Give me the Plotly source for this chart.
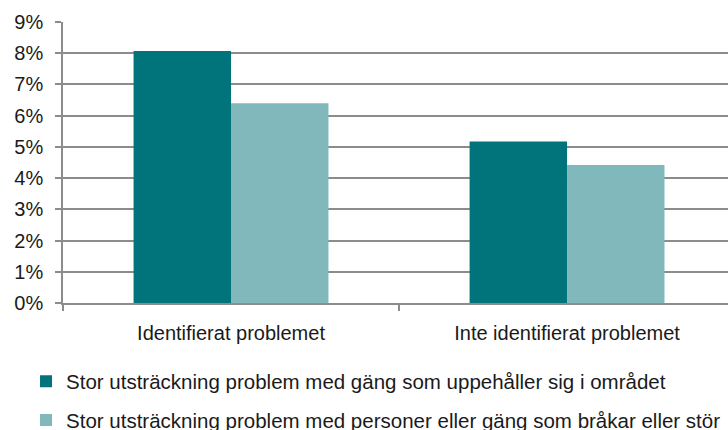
import plotly.graph_objects as go

# Data
categories = ["Identifierat problemet", "Inte identifierat problemet"]
series_names = [
    "Stor utsträckning problem med gäng som uppehåller sig i området",
    "Stor utsträckning problem med personer eller gäng som bråkar eller stör",
]
gang_values = [0.0807, 0.0517]
disturb_values = [0.0640, 0.0442]
y_ticks = [0, 0.01, 0.02, 0.03, 0.04, 0.05, 0.06, 0.07, 0.08, 0.09]
y_labels = ["0%", "1%", "2%", "3%", "4%", "5%", "6%", "7%", "8%", "9%"]

FONT = "Liberation Sans, Arial, sans-serif"
GRID = "#8c8c8c"

fig = go.Figure()

fig.add_trace(go.Bar(
    x=categories, y=gang_values, name=series_names[0],
    marker_color="#01737A", marker_line_width=0, legendgroup="a",
))
fig.add_trace(go.Bar(
    x=categories, y=disturb_values, name=series_names[1],
    marker_color="#80B8BC", marker_line_width=0, legendgroup="b",
))

fig.update_layout(
    width=728, height=430,
    margin=dict(l=63, r=0, t=22, b=127, autoexpand=False),
    paper_bgcolor="white", plot_bgcolor="white",
    barmode="group", bargap=0.42, bargroupgap=0,
    font=dict(family=FONT, size=20, color="#1a1a1a"),
    showlegend=True,
    legend=dict(
        orientation="v", x=-0.0556, xanchor="left", y=-0.208, yanchor="top",
        font=dict(size=20.5), tracegroupgap=9, traceorder="grouped",
        bgcolor="rgba(0,0,0,0)",
    ),
)

fig.update_xaxes(
    range=[-0.5, 1.479], showgrid=False, automargin=False,
    showline=True, linecolor=GRID, linewidth=1.5,
    ticks="outside", tickson="boundaries", ticklen=6, tickcolor=GRID, tickwidth=1.5,
    tickfont=dict(size=20), ticklabelstandoff=11,
)
fig.update_yaxes(
    range=[0, 0.09], tickvals=y_ticks, ticktext=y_labels, automargin=False,
    showgrid=True, gridcolor=GRID, gridwidth=1.5,
    showline=True, linecolor=GRID, linewidth=1.5,
    ticks="outside", ticklen=6, tickcolor=GRID, tickwidth=1.5,
    tickfont=dict(size=20), ticklabelstandoff=8, zeroline=False,
)

# drop the default page margin so the chart sits at the window's corner
fig.write_html(
    "out.html",
    config={"displayModeBar": False},
    post_script="document.body.style.margin='0';document.body.style.overflow='hidden';",
)
